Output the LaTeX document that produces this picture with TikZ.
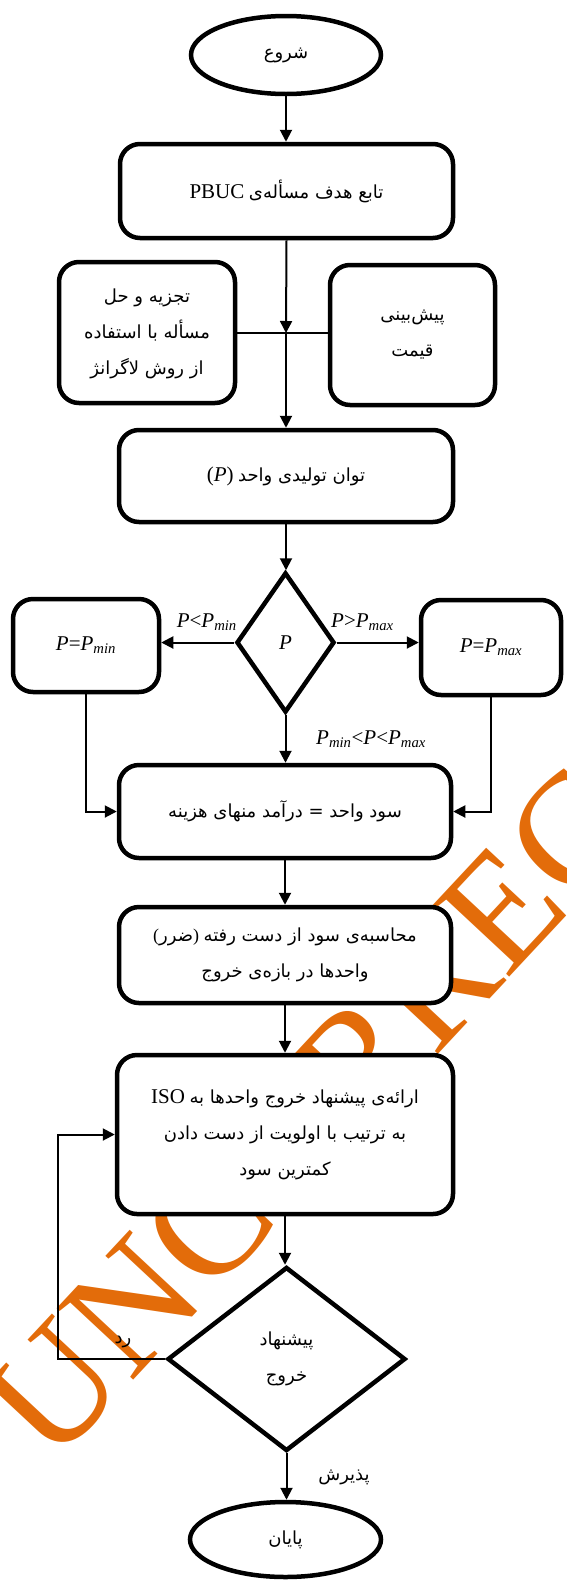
\documentclass[tikz,border=0pt]{standalone}
\usepackage{fontspec}
\setmainfont{Liberation Serif}
\newfontfamily\arabicfont[Script=Arabic]{DejaVu Sans}
\TeXXeTstate=1
\usetikzlibrary{shapes.geometric,arrows.meta,calc}
\definecolor{wm}{RGB}{227,108,10}
\newcommand{\fa}[1]{{\arabicfont\beginR #1\endR}}
\newcommand{\lt}[1]{{\fontsize{21}{36}\selectfont #1}}
\tikzset{
 box/.style={draw, line width=4.5pt, rounded corners=20pt, fill=white, inner sep=0pt, align=center},
 ell/.style={draw, ellipse, line width=4.5pt, fill=white, inner sep=0pt},
 dia/.style={draw, diamond, line width=4.5pt, fill=white, inner sep=0pt, align=center},
 conn/.style={line width=2pt, -{Triangle[length=12pt,width=12pt]}},
 plainline/.style={line width=2pt},
 lbl/.style={inner sep=0pt},
 ltlbl/.style={inner sep=0pt, font=\fontsize{21}{24}\selectfont},
}
\begin{document}
\begin{tikzpicture}[x=1pt,y=-1pt, font=\fontsize{18}{36}\selectfont]
\useasboundingbox (0,0) rectangle (566,1580);
\node[rotate=47, anchor=base west, text=wm, inner sep=0pt, font=\fontsize{160}{160}\selectfont] (wmk) at (52,1468) {UNCORRECTED PROOF};

\node[ell, minimum width=190pt, minimum height=78pt] (start) at (286,55) {\fa{شروع}};
\node[box, minimum width=333pt, minimum height=94pt] (obj) at (286.5,191) {\lt{PBUC} \fa{تابع هدف مسأله^^^^200cی}};
\node[box, minimum width=176pt, minimum height=141pt, text depth=2pt] (lag) at (147,332.5) {\fa{تجزیه و حل}\\ \fa{مسأله با استفاده}\\ \fa{از روش لاگرانژ}};
\node[box, minimum width=165pt, minimum height=140pt] (price) at (412.5,335) {\fa{پیش^^^^200cبینی}\\ \fa{قیمت}};
\coordinate (J) at (286,333);
\node[box, minimum width=334pt, minimum height=92pt] (pow) at (286,476) {\lt{(\textit{P})} \fa{توان تولیدی واحد}};
\node[dia, minimum width=98pt, minimum height=140pt] (dP) at (285.5,642.5) {\lt{\textit{P}}};
\node[box, minimum width=146pt, minimum height=93pt] (pmin) at (86,645.5) {\lt{\textit{P}=\textit{P}\textsubscript{\textit{min}}}};
\node[box, minimum width=140pt, minimum height=95pt] (pmax) at (491,647.5) {\lt{\textit{P}=\textit{P}\textsubscript{\textit{max}}}};
\node[box, minimum width=332pt, minimum height=93pt] (sum) at (285,811.5) {\fa{سود واحد = درآمد منهای هزینه}};
\node[box, minimum width=332pt, minimum height=96pt] (loss) at (285,955) {(\fa{ضرر}) \fa{محاسبه^^^^200cی سود از دست رفته}\\ \fa{واحدها در بازه^^^^200cی خروج}};
\node[box, minimum width=336pt, minimum height=159pt] (iso) at (285,1134.5) {\lt{ISO} \fa{ارائه^^^^200cی پیشنهاد خروج واحدها به}\\ \fa{به ترتیب با اولویت از دست دادن}\\ \fa{کمترین سود}};
\node[dia, minimum width=238pt, minimum height=184pt] (dec) at (286.5,1359) {\fa{پیشنهاد}\\ \fa{خروج}};
\node[ell, minimum width=191pt, minimum height=75pt] (end) at (285.5,1539.5) {\fa{پایان}};
\coordinate (fb) at (58,1359);

\draw[conn] (start.south) -- (start.south |- obj.north);
\draw[conn] (obj.south) -- (J);
\draw[plainline] (J -| lag.east) -- (J -| price.west);
\draw[conn] (J) -- (J |- pow.north);
\draw[conn] (pow.south) -- (pow.south |- dP.north);
\draw[conn] (dP.west) -- (dP.west -| pmin.east);
\draw[conn] (dP.east) -- (dP.east -| pmax.west);
\draw[conn] (dP.south) -- (dP.south |- sum.north);
\draw[conn] (pmin.south) |- (sum.west);
\draw[conn] (pmax.south) |- (sum.east);
\draw[conn] (sum.south) -- (sum.south |- loss.north);
\draw[conn] (loss.south) -- (loss.south |- iso.north);
\draw[conn] (iso.south) -- (iso.south |- dec.north);
\draw[conn] (dec.west) -- (fb) |- (iso.west);
\draw[conn] (dec.south) -- (dec.south |- end.north);

\node[ltlbl, anchor=base east] (l1) at (237,627) {\textit{P}<\textit{P}\textsubscript{\textit{min}}};
\node[ltlbl, anchor=base west] (l2) at (331,627) {\textit{P}>\textit{P}\textsubscript{\textit{max}}};
\node[ltlbl, anchor=base west] (l3) at (316,744) {\textit{P}\textsubscript{\textit{min}}<\textit{P}<\textit{P}\textsubscript{\textit{max}}};
\node[lbl] (rej) at (123,1342) {\fa{رد}};
\node[lbl] (acc) at (344,1477) {\fa{پذیرش}};
\end{tikzpicture}
\end{document}
